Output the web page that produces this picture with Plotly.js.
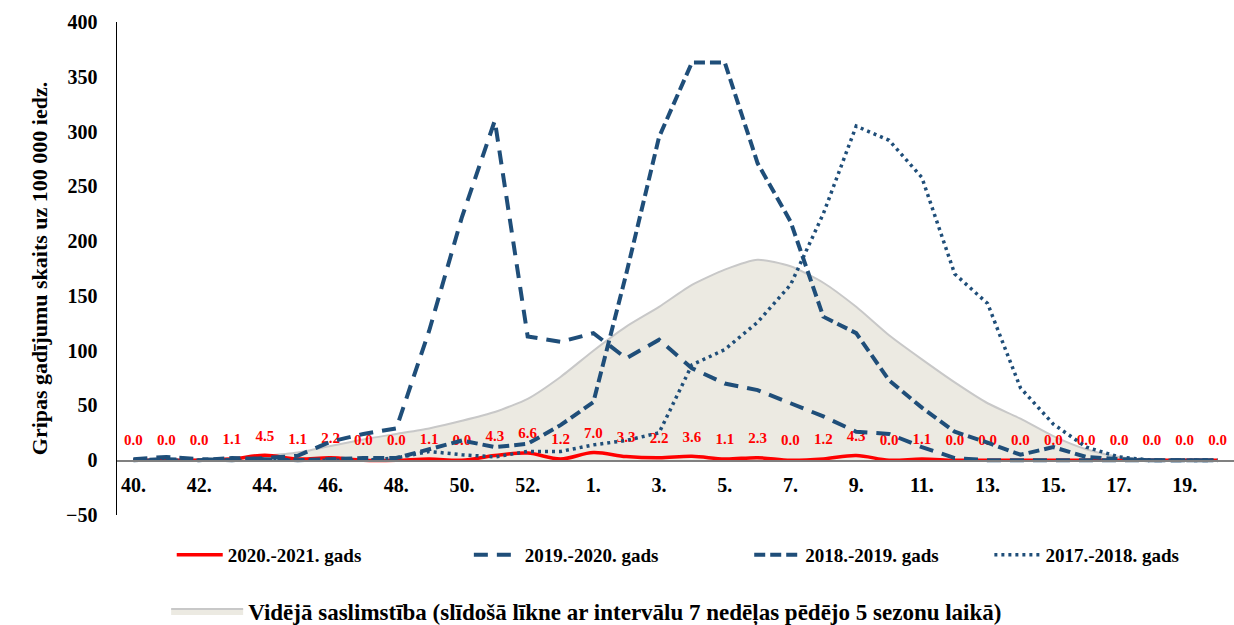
<!DOCTYPE html>
<html><head><meta charset="utf-8">
<script src="https://cdn.plot.ly/plotly-3.0.1.min.js"></script>
<style>html,body{margin:0;padding:0;background:#fff}#chart{width:1234px;height:625px}</style>
</head><body><div id="chart"></div>
<script>
// Categories: epidemiological weeks
const weeks = ["40.","41.","42.","43.","44.","45.","46.","47.","48.","49.","50.","51.","52.","53.",
  "1.","2.","3.","4.","5.","6.","7.","8.","9.","10.","11.","12.","13.","14.","15.","16.","17.","18.","19.","20."];
// Series values (cases per 100 000)
const season2020_2021 = [0.0,0.0,0.0,1.1,4.5,1.1,2.2,0.0,0.0,1.1,0.0,4.3,6.6,1.2,
  7.0,3.3,2.2,3.6,1.1,2.3,0.0,1.2,4.3,0.0,1.1,0.0,0.0,0.0,0.0,0.0,0.0,0.0,0.0,0.0];
const season2019_2020 = [1,3,1,0,2,4,17,24,29,118,222,310,113,108,
  116,93,110,84,70,64,52,40,26,24,12,2,0,0,0,0,0,0,0,0];
const season2018_2019 = [0,1,0,2,1,0,1,2,2,10,18,12,15,32,
  53,170,295,363,363,271,218,131,116,73,48,26,16,5,12,3,1,0,0,0];
const season2017_2018 = [0,0,0,0,0,0,0,0,2,8,5,3,8,8,
  14,18,25,87,101,126,160,225,305,292,258,170,143,66,33,12,3,0,0,0];
const averageIncidence = [0,0,1,2,4,7,13,19,24,29,36,44,56,76,
  100,122,140,160,174,183,177,162,140,114,92,71,52,38,22,10,3,0,0,0];
const tickLabels = weeks.filter((w, i) => i % 2 === 0);
const seriesNames = ["2020.-2021. gads","2019.-2020. gads","2018.-2019. gads","2017.-2018. gads",
  "Vidējā saslimstība (slīdošā līkne ar intervālu 7 nedēļas pēdējo 5 sezonu laikā)"];

const SERIF = "Liberation Serif, Times New Roman, serif";
const BLUE = "#1F4E79";

const traces = [
  {x: weeks, y: averageIncidence, type: "scatter", mode: "lines", name: seriesNames[4],
   fill: "tozeroy", fillcolor: "#ECEAE2", line: {color: "#C8C8C8", width: 2, shape: "spline", smoothing: 0.6},
   legend: "legend5", hoverinfo: "skip"},
  {x: weeks, y: season2020_2021, type: "scatter", mode: "lines", name: seriesNames[0],
   line: {color: "#FF0000", width: 3.5, shape: "spline", smoothing: 1}, legend: "legend"},
  {x: weeks, y: season2020_2021, type: "scatter", mode: "markers+text", showlegend: false,
   marker: {size: 16, color: "rgba(0,0,0,0)"},
   text: season2020_2021.map(v => v.toFixed(1)), textposition: "top center",
   textfont: {family: SERIF, size: 15, color: "#FF0000", weight: "bold"}, hoverinfo: "skip"},
  {x: weeks, y: season2019_2020, type: "scatter", mode: "lines", name: seriesNames[1],
   line: {color: BLUE, width: 4, dash: "14px,9px"}, legend: "legend2"},
  {x: weeks, y: season2018_2019, type: "scatter", mode: "lines", name: seriesNames[2],
   line: {color: BLUE, width: 4, dash: "11px,5px"}, legend: "legend3"},
  {x: weeks, y: season2017_2018, type: "scatter", mode: "lines", name: seriesNames[3],
   line: {color: BLUE, width: 3.5, dash: "3px,4px"}, legend: "legend4"}
];

function leg(x, y, w, size) {
  return {x: x, y: y, xanchor: "left", yanchor: "middle", orientation: "h",
    font: {family: SERIF, size: size, color: "#000", weight: "bold"},
    bgcolor: "rgba(0,0,0,0)", itemwidth: w};
}

const layout = {
  width: 1234, height: 625,
  margin: {l: 117, r: 0, t: 22, b: 110, autoexpand: false},
  paper_bgcolor: "#fff", plot_bgcolor: "#fff",
  showlegend: true,
  xaxis: {type: "category", range: [-0.5, 33.5], anchor: "free", position: 50/450,
    showline: true, linecolor: "#808080", linewidth: 1.5, showgrid: false, zeroline: false,
    ticks: "", tickvals: tickLabels, ticktext: tickLabels, ticklabelstandoff: 6,
    tickfont: {family: SERIF, size: 20, color: "#000", weight: "bold"}},
  yaxis: {range: [-50, 400], dtick: 50, tick0: 0, showline: true, linecolor: "#000", linewidth: 1.5,
    showgrid: false, zeroline: false, ticks: "", ticklabelstandoff: 14,
    tickfont: {family: SERIF, size: 20, color: "#000", weight: "bold"},
    title: {text: "Gripas gadījumu skaits uz 100 000 iedz.", standoff: 12,
      font: {family: SERIF, size: 22, color: "#000", weight: "bold"}}},
  legend: leg(0.049, -0.081, 46, 19),
  legend2: leg(0.315, -0.081, 46, 19),
  legend3: leg(0.566, -0.081, 46, 19),
  legend4: leg(0.781, -0.081, 46, 19),
  legend5: leg(0.044, -0.195, 72, 23)
};

Plotly.newPlot("chart", traces, layout, {displayModeBar: false, staticPlot: true});
</script></body></html>
